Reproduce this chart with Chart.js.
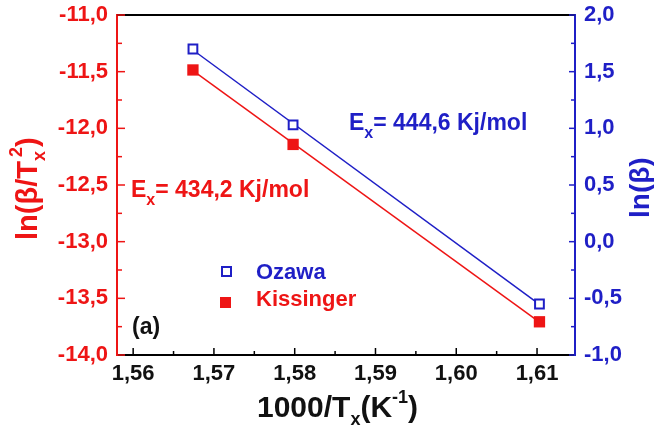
<!DOCTYPE html>
<html>
<head>
<meta charset="utf-8">
<script src="https://cdn.jsdelivr.net/npm/chart.js@4"></script>
<style>
html, body { margin: 0; padding: 0; background: #fff; }
#wrap { width: 654px; height: 425px; }
</style>
</head>
<body>
<div id="wrap"><canvas id="chart" width="654" height="425"></canvas></div>
<script>
// ===========================
// DATA
// ===========================
const invTx = [1.5674, 1.5798, 1.6103];          // 1000/Tx (K^-1)
const kissinger = [-11.485, -12.142, -13.707];    // ln(beta/Tx^2), left axis
const ozawa = [1.70, 1.03, -0.55];                // ln(beta), right axis
const xTicks = [1.56, 1.57, 1.58, 1.59, 1.60, 1.61];
const leftTicks = [-14, -13.5, -13, -12.5, -12, -11.5, -11];
const rightTicks = [-1, -0.5, 0, 0.5, 1, 1.5, 2];
const seriesNames = ["Ozawa", "Kissinger"];
const energyText = ["= 434,2 Kj/mol", "= 444,6 Kj/mol"];

const RED = "#ee1515";
const BLUE = "#1f1fc6";
const FONT = '"Liberation Sans", Arial, sans-serif';

// Linear fit through the points
function fitLine(xs, ys) {
    const n = xs.length;
    const mx = xs.reduce((a, b) => a + b, 0) / n;
    const my = ys.reduce((a, b) => a + b, 0) / n;
    let sxy = 0, sxx = 0;
    for (let i = 0; i < n; i++) {
        sxy += (xs[i] - mx) * (ys[i] - my);
        sxx += (xs[i] - mx) * (xs[i] - mx);
    }
    const slope = sxy / sxx;
    const x0 = xs[0], x1 = xs[n - 1];
    return [
        { x: x0, y: my + slope * (x0 - mx) },
        { x: x1, y: my + slope * (x1 - mx) }
    ];
}

const pts = (xs, ys) => xs.map((x, i) => ({ x: x, y: ys[i] }));
const comma = (v, d) => v.toFixed(d).replace(".", ",");

// Draw text made of normal / sub / sup pieces
function richText(ctx, parts, x, y, color, angle) {
    ctx.save();
    ctx.translate(x, y);
    ctx.rotate(angle || 0);
    ctx.fillStyle = color;
    ctx.textAlign = "left";
    ctx.textBaseline = "alphabetic";
    let cx = 0;
    parts.forEach(p => {
        ctx.font = "bold " + p.size + "px " + FONT;
        ctx.fillText(p.text, cx, p.dy || 0);
        cx += ctx.measureText(p.text).width + (p.gap || 0);
    });
    ctx.restore();
}

// Inward ticks, top frame, titles, legend, annotations
const decorPlugin = {
    id: "decor",
    afterDraw(chart) {
        const ctx = chart.ctx;
        const a = chart.chartArea;
        const sx = chart.scales.x, sl = chart.scales.yL, sr = chart.scales.yR;

        ctx.save();
        // top frame line
        ctx.strokeStyle = "#000";
        ctx.lineWidth = 2;
        ctx.beginPath();
        ctx.moveTo(a.left, a.top);
        ctx.lineTo(a.right, a.top);
        ctx.stroke();

        // x ticks (inward)
        ctx.lineWidth = 1.5;
        ctx.strokeStyle = "#000";
        xTicks.forEach((v, i) => {
            let p = sx.getPixelForValue(v);
            ctx.beginPath(); ctx.moveTo(p, a.bottom); ctx.lineTo(p, a.bottom - 7); ctx.stroke();
            const m = v + 0.005;
            if (m < sx.max) {
                p = sx.getPixelForValue(m);
                ctx.beginPath(); ctx.moveTo(p, a.bottom); ctx.lineTo(p, a.bottom - 4); ctx.stroke();
            }
        });

        // left ticks
        ctx.strokeStyle = RED;
        leftTicks.forEach((v, i) => {
            let p = sl.getPixelForValue(v);
            ctx.beginPath(); ctx.moveTo(a.left, p); ctx.lineTo(a.left + 8, p); ctx.stroke();
            if (i < leftTicks.length - 1) {
                p = sl.getPixelForValue((v + leftTicks[i + 1]) / 2);
                ctx.beginPath(); ctx.moveTo(a.left, p); ctx.lineTo(a.left + 5, p); ctx.stroke();
            }
        });

        // right ticks
        ctx.strokeStyle = BLUE;
        rightTicks.forEach((v, i) => {
            let p = sr.getPixelForValue(v);
            ctx.beginPath(); ctx.moveTo(a.right, p); ctx.lineTo(a.right - 6, p); ctx.stroke();
            if (i < rightTicks.length - 1) {
                p = sr.getPixelForValue((v + rightTicks[i + 1]) / 2);
                ctx.beginPath(); ctx.moveTo(a.right, p); ctx.lineTo(a.right - 4, p); ctx.stroke();
            }
        });
        ctx.restore();

        // axis titles
        richText(ctx, [
            { text: "1000/T", size: 30 },
            { text: "x", size: 18, dy: 8 },
            { text: "(K", size: 30 },
            { text: "-1", size: 18, dy: -14 },
            { text: ")", size: 30 }
        ], 257, 417, "#111", 0);

        richText(ctx, [
            { text: "ln(β/T", size: 29 },
            { text: "x", size: 18, dy: 8, gap: -6 },
            { text: "2", size: 18, dy: -15 },
            { text: ")", size: 29 }
        ], 37, 240, RED, -Math.PI / 2);

        richText(ctx, [
            { text: "ln(β)", size: 28 }
        ], 649, 218, BLUE, -Math.PI / 2);

        // activation energy annotations
        richText(ctx, [
            { text: "E", size: 23 },
            { text: "x", size: 16, dy: 8 },
            { text: energyText[0], size: 23 }
        ], 131, 197, RED, 0);

        richText(ctx, [
            { text: "E", size: 23 },
            { text: "x", size: 16, dy: 8 },
            { text: energyText[1], size: 23 }
        ], 349, 130, BLUE, 0);

        // panel label
        richText(ctx, [{ text: "(a)", size: 23 }], 132, 334, "#111", 0);

        // legend
        ctx.save();
        ctx.strokeStyle = BLUE;
        ctx.lineWidth = 2;
        ctx.strokeRect(222, 267, 9, 9);
        ctx.fillStyle = RED;
        ctx.fillRect(220, 297, 11, 11);
        ctx.restore();
        richText(ctx, [{ text: seriesNames[0], size: 22 }], 256, 279, BLUE, 0);
        richText(ctx, [{ text: seriesNames[1], size: 22 }], 256, 306, RED, 0);
    }
};

const tickFont = { family: FONT, size: 22, weight: "bold" };

// y axes: fixed width, no extra label overhang at top/bottom
const fixY = w => s => { s.width = w; s.paddingTop = 0; s.paddingBottom = 0; };

new Chart(document.getElementById("chart"), {
    type: "scatter",
    data: {
        datasets: [
            {
                label: seriesNames[0],
                data: pts(invTx, ozawa),
                yAxisID: "yR",
                pointStyle: "rect",
                pointRadius: 6.2,
                borderColor: BLUE,
                backgroundColor: "#fff",
                borderWidth: 2,
                order: 0
            },
            {
                label: seriesNames[1],
                data: pts(invTx, kissinger),
                yAxisID: "yL",
                pointStyle: "rect",
                pointRadius: 8,
                borderColor: RED,
                backgroundColor: RED,
                borderWidth: 0,
                order: 0
            },
            {
                label: "Ozawa fit",
                data: fitLine(invTx, ozawa),
                yAxisID: "yR",
                showLine: true,
                pointRadius: 0,
                borderColor: BLUE,
                borderWidth: 1.5,
                order: 1
            },
            {
                label: "Kissinger fit",
                data: fitLine(invTx, kissinger),
                yAxisID: "yL",
                showLine: true,
                pointRadius: 0,
                borderColor: RED,
                borderWidth: 1.5,
                order: 1
            }
        ]
    },
    options: {
        responsive: false,
        devicePixelRatio: 1,
        animation: false,
        layout: { padding: { top: 15, left: 0, right: 0, bottom: 0 } },
        plugins: {
            legend: { display: false },
            tooltip: { enabled: false }
        },
        scales: {
            x: {
                type: "linear",
                position: "bottom",
                min: 1.558,
                max: 1.6147,
                grid: { display: false, drawTicks: false },
                border: { display: true, color: "#000", width: 2 },
                ticks: {
                    font: tickFont,
                    color: "#111",
                    padding: 6,
                    maxRotation: 0,
                    callback: v => comma(v, 2)
                },
                afterBuildTicks: s => { s.ticks = xTicks.map(v => ({ value: v })); },
                afterFit: s => { s.height = 70; s.paddingLeft = 0; s.paddingRight = 0; }
            },
            yL: {
                type: "linear",
                position: "left",
                min: -14,
                max: -11,
                grid: { display: false, drawTicks: false },
                border: { display: true, color: RED, width: 2 },
                ticks: {
                    font: tickFont,
                    color: RED,
                    padding: 9,
                    callback: v => comma(v, 1)
                },
                afterBuildTicks: s => { s.ticks = leftTicks.map(v => ({ value: v })); },
                afterFit: fixY(117)
            },
            yR: {
                type: "linear",
                position: "right",
                min: -1,
                max: 2,
                grid: { display: false, drawTicks: false },
                border: { display: true, color: BLUE, width: 2 },
                ticks: {
                    font: tickFont,
                    color: BLUE,
                    padding: 9,
                    callback: v => comma(v, 1)
                },
                afterBuildTicks: s => { s.ticks = rightTicks.map(v => ({ value: v })); },
                afterFit: fixY(79)
            }
        }
    },
    plugins: [decorPlugin]
});
</script>
</body>
</html>
